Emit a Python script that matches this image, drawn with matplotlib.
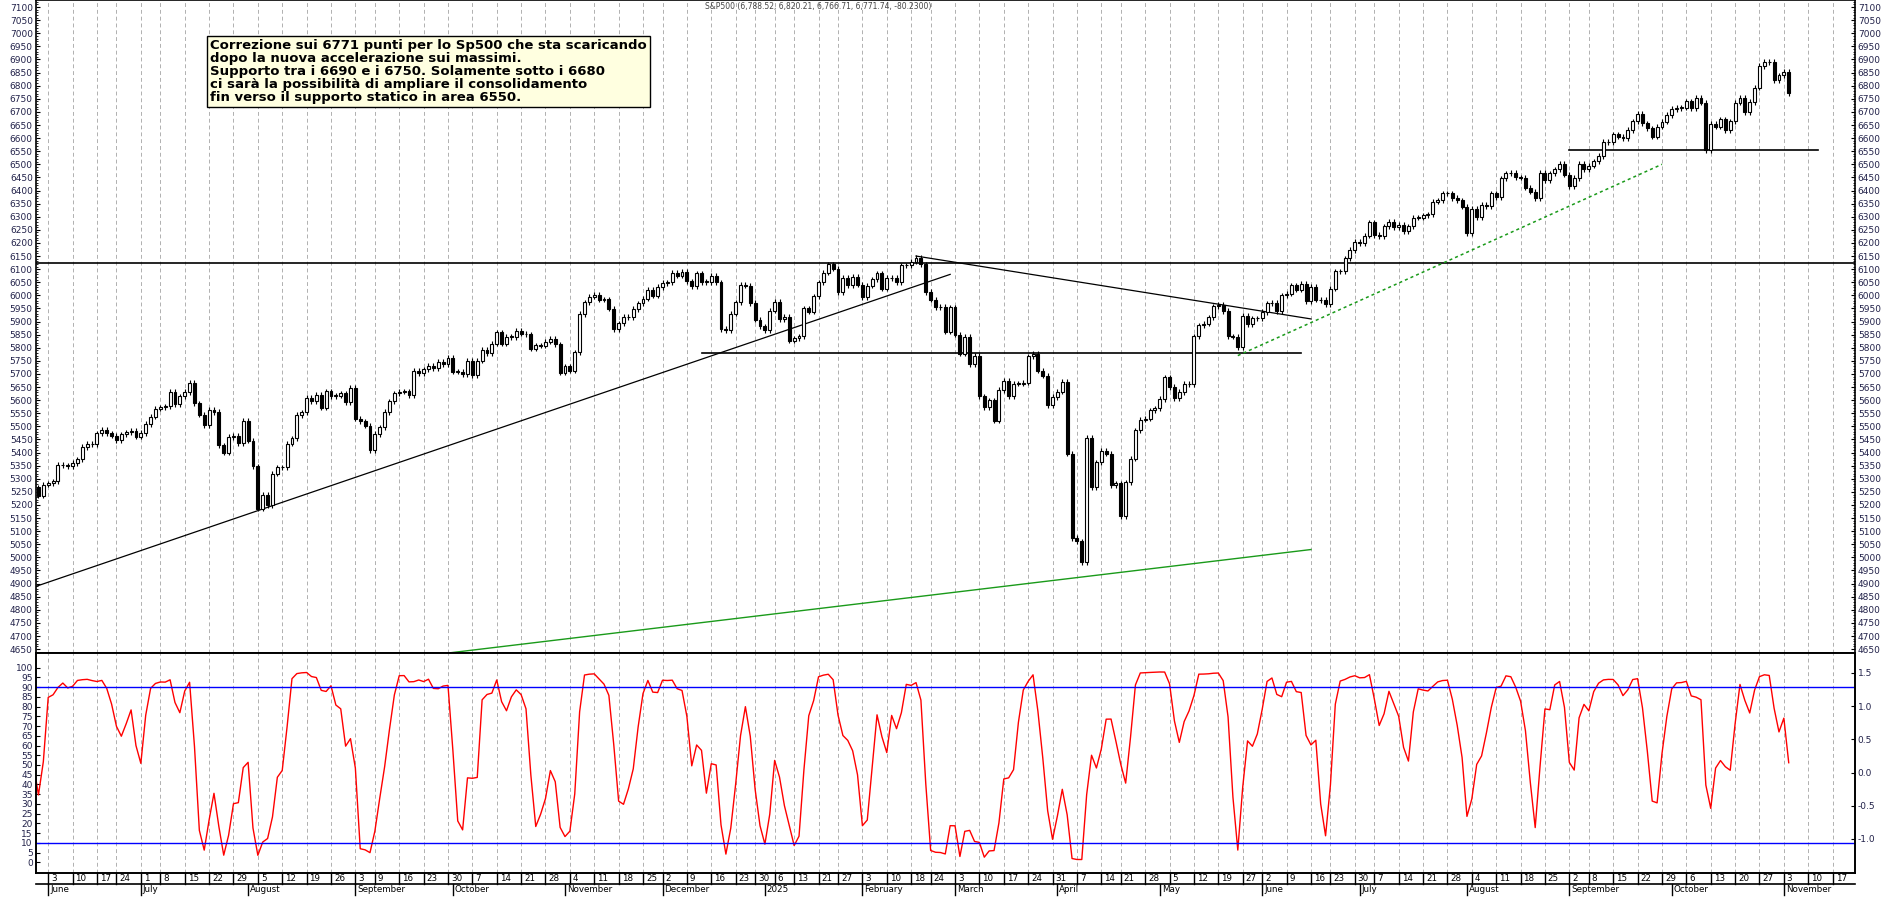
import matplotlib
matplotlib.use("Agg")
import matplotlib.pyplot as plt
import numpy as np
import pandas as pd

# daily closes, S&P500 (May 29 2024 .. Nov 4 2025)
closes_2024 = [
    5267, 5235, 5278,
    5283, 5291, 5354, 5352, 5347, 5360, 5375, 5421, 5433, 5431, 5473, 5487, 5473, 5464, 5447, 5469, 5478, 5483, 5460,
    5475, 5509, 5537, 5567, 5572, 5577, 5633, 5584, 5615, 5631, 5667, 5588, 5544, 5505, 5564, 5555, 5427, 5399, 5459, 5464, 5436, 5522,
    5446, 5347, 5186, 5240, 5199, 5319, 5344, 5344, 5434, 5455, 5543, 5554, 5608, 5597, 5620, 5571, 5634, 5616, 5617, 5626, 5592, 5648,
    5529, 5520, 5503, 5408, 5471, 5496, 5555, 5596, 5626, 5633, 5634, 5618, 5713, 5702, 5718, 5732, 5722, 5746, 5738, 5762,
    5709, 5709, 5699, 5751, 5696, 5751, 5792, 5780, 5815, 5859, 5815, 5842, 5841, 5864, 5853, 5851, 5797, 5809, 5808, 5823, 5833, 5813, 5705,
    5729, 5712, 5782, 5929, 5973, 5995, 6001, 5984, 5985, 5949, 5870, 5893, 5917, 5917, 5948, 5969, 5987, 6021, 5998, 6032,
    6047, 6050, 6086, 6075, 6090, 6053, 6034, 6084, 6051, 6051, 6074, 6050, 5872, 5867, 5930, 5974, 6040, 6037, 5971, 5907, 5882,
]
closes_2025 = [
    5868, 5942, 5975, 5909, 5918, 5827, 5836, 5843, 5950, 5937, 5997, 6049, 6086, 6119, 6101, 6012, 6068, 6039, 6071, 6041,
    5994, 6037, 6061, 6084, 6026, 6066, 6068, 6051, 6115, 6114, 6129, 6144, 6118, 6013, 5983, 5955, 5956, 5861, 5955,
    5850, 5778, 5842, 5738, 5770, 5615, 5572, 5599, 5521, 5639, 5675, 5615, 5663, 5663, 5667, 5768, 5777, 5712, 5693, 5581, 5612,
    5633, 5671, 5396, 5074, 5062, 4982, 5456, 5268, 5363, 5406, 5396, 5275, 5283, 5158, 5287, 5376, 5485, 5525, 5529, 5561, 5569,
    5604, 5687, 5650, 5607, 5631, 5663, 5660, 5844, 5886, 5892, 5916, 5958, 5964, 5940, 5844, 5842, 5802, 5922, 5889, 5912, 5912,
    5936, 5970, 5971, 5939, 6000, 6006, 6038, 6022, 6045, 5977, 6033, 5983, 5982, 5967, 6025, 6092, 6092, 6141, 6173, 6205,
    6198, 6227, 6279, 6230, 6225, 6263, 6280, 6260, 6269, 6244, 6264, 6297, 6297, 6306, 6309, 6358, 6363, 6389, 6390, 6371, 6362, 6339,
    6238, 6330, 6299, 6345, 6340, 6389, 6374, 6446, 6466, 6468, 6450, 6449, 6411, 6395, 6370, 6467, 6439, 6466, 6481, 6502, 6460,
    6416, 6448, 6502, 6482, 6495, 6512, 6532, 6587, 6584, 6615, 6606, 6600, 6631, 6664, 6693, 6657, 6638, 6605, 6644, 6662, 6688,
    6711, 6715, 6716, 6740, 6715, 6753, 6735, 6553, 6655, 6644, 6672, 6630, 6664, 6735, 6753, 6699, 6738, 6792, 6875, 6891, 6890, 6822, 6840,
    6852, 6772,
]
holidays = ["2024-06-19", "2024-07-04", "2024-09-02", "2024-11-28", "2024-12-25",
            "2025-01-01", "2025-01-09", "2025-01-20", "2025-02-17", "2025-04-18",
            "2025-05-26", "2025-06-19", "2025-07-04", "2025-09-01", "2025-11-27"]

# trend / support lines: (date, level) pairs
h_resist = 6125
up_line = [("2024-05-29", 4880), ("2025-02-28", 6080)]
down_line = [("2025-02-19", 6150), ("2025-06-16", 5910)]
h_mid = [("2024-12-12", "2025-06-12"), 5780]
green_line = [("2024-09-30", 4635), ("2025-06-16", 5030)]
green_dotted = [("2025-05-23", 5770), ("2025-09-29", 6500)]
h_support = [("2025-09-02", "2025-11-12"), 6555]

note = ("Correzione sui 6771 punti per lo Sp500 che sta scaricando\n"
        "dopo la nuova accelerazione sui massimi.\n"
        "Supporto tra i 6690 e i 6750. Solamente sotto i 6680\n"
        "ci sarà la possibilità di ampliare il consolidamento\n"
        "fin verso il supporto statico in area 6550.")
title = "S&P500 (6,788.52, 6,820.21, 6,766.71, 6,771.74, -80.2300)"

closes = np.array(closes_2024 + closes_2025, dtype=float)
days = pd.bdate_range("2024-05-29", "2025-11-21")
days = days[~days.isin(pd.to_datetime(holidays))]
n = len(closes)
pos = {d: i for i, d in enumerate(days)}


def xi(s):
    return pos[pd.Timestamp(s)]


opens = np.r_[closes[0], closes[:-1]]
highs = np.maximum(opens, closes) + 10
lows = np.minimum(opens, closes) - 10

# fast stochastic %K(8) slowed by 2
look = 8
k = np.full(n, np.nan)
for i in range(n):
    j = max(0, i - look + 1)
    lo, hi = lows[j:i+1].min(), highs[j:i+1].max()
    k[i] = 100 * (closes[i] - lo) / (hi - lo)
stoch = pd.Series(k).rolling(2, min_periods=1).mean().values

fig = plt.figure(figsize=(18.9, 9.02), dpi=100)
bot = 1 - 873 / 902
ax = fig.add_axes([0.0188, 0.276, 0.9627, 0.724])
ax2 = fig.add_axes([0.0188, bot, 0.9627, 0.276 - bot], sharex=ax)
lab_col = "#22224a"

x = np.arange(n)
up = closes >= opens
ax.vlines(x, lows, highs, color="black", lw=0.8, zorder=3)
body_lo = np.minimum(opens, closes)
body_h = np.maximum(np.abs(closes - opens), 2)
ax.bar(x[up], body_h[up], bottom=body_lo[up], width=0.6, color="white",
       edgecolor="black", lw=0.8, zorder=4)
ax.bar(x[~up], body_h[~up], bottom=body_lo[~up], width=0.6, color="black",
       edgecolor="black", lw=0.8, zorder=4)

xmin, xmax = 0.4, 373.6
ax.axhline(h_resist, color="black", lw=1.2)
ax.plot([xi(up_line[0][0]) - 1, xi(up_line[1][0])], [up_line[0][1], up_line[1][1]], color="black", lw=0.9)
ax.plot([xi(down_line[0][0]), xi(down_line[1][0])], [down_line[0][1], down_line[1][1]], color="black", lw=0.9)
ax.plot([xi(h_mid[0][0]), xi(h_mid[0][1])], [h_mid[1]] * 2, color="black", lw=1.2)
ax.plot([xi(green_line[0][0]), xi(green_line[1][0])], [green_line[0][1], green_line[1][1]], color="#1a9a1a", lw=1.0)
ax.plot([xi(green_dotted[0][0]), xi(green_dotted[1][0])], [green_dotted[0][1], green_dotted[1][1]],
        color="#1a9a1a", lw=1.1, ls=(0, (2, 2)))
ax.plot([xi(h_support[0][0]), xi(h_support[0][1])], [h_support[1]] * 2, color="black", lw=1.2)

ax.set_ylim(4635, 7127)
ax.set_xlim(xmin, xmax)
ax.text(0.096, 0.94, note, transform=ax.transAxes, ha="left", va="top", fontsize=9.5,
        fontweight="bold", family="Liberation Sans Narrow", linespacing=1.0,
        bbox=dict(boxstyle="square,pad=0.25", fc="#ffffe0", ec="black", lw=1))
ax.text(0.43, 0.997, title, transform=ax.transAxes, ha="center", va="top", fontsize=5.5, color="#444444")

# weekly ticks at first trading day of each week
wk = pd.Series(days).groupby(pd.Series(days).dt.to_period("W")).first()
wk_idx = [pos[d] for d in wk if pos[d] >= 1]
for a in (ax, ax2):
    for i in wk_idx:
        a.axvline(i, color="#b0b0b0", lw=0.7, ls=(0, (4, 3)), zorder=0)

ticks = np.arange(4650, 7101, 50)
ax.set_yticks(ticks)
ax.set_yticks(np.arange(4640, 7127, 10), minor=True)
ax.tick_params(axis="y", which="both", labelleft=True, labelright=True, left=True, right=True,
               labelsize=6.5, labelcolor=lab_col, length=3, direction="in", pad=2)
ax.tick_params(axis="y", which="minor", length=1.5)
ax.tick_params(axis="x", bottom=False, labelbottom=False)

ax2.plot(x, stoch, color="red", lw=1.0)
ax2.axhline(90, color="blue", lw=1.0)
ax2.axhline(10, color="blue", lw=1.0)
ax2.set_ylim(-5.5, 107.5)
ax2.set_yticks(np.arange(0, 101, 5))
ax2.tick_params(axis="y", labelsize=6.5, labelcolor=lab_col, length=3, direction="in", pad=2)
ax2.tick_params(axis="x", bottom=False, labelbottom=False)
axr = ax2.twinx()
axr.set_ylim((-5.5 - 46.1) / 34.1, (107.5 - 46.1) / 34.1)
axr.set_yticks([-1.0, -0.5, 0.0, 0.5, 1.0, 1.5])
axr.set_yticklabels(["-1.0", "-0.5", "0.0", "0.5", "1.0", "1.5"])
axr.tick_params(axis="y", labelsize=6.5, labelcolor=lab_col, length=3, direction="in", pad=2)

for a in (ax, ax2, axr):
    for s in a.spines.values():
        s.set_linewidth(1.2)

# date axis: day row and month row under the lower panel
h_ax = (0.276 - bot) * 902
row = 11 / h_ax
tr = ax2.get_xaxis_transform()
ax2.plot([xmin, xmax], [-row, -row], color="black", lw=1.2, transform=tr, clip_on=False)
for i in wk_idx:
    ax2.plot([i, i], [0, -row], color="black", lw=1.0, transform=tr, clip_on=False)
    ax2.text(i + 0.6, -row / 2, str(days[i].day), transform=tr, ha="left", va="center", fontsize=6.3)
first_month = pd.Series(days).groupby(pd.Series(days).dt.to_period("M")).first()
for d in first_month:
    i = pos[d]
    if i < 2:
        continue
    ax2.plot([i, i], [-row, -2 * row], color="black", lw=1.0, transform=tr, clip_on=False)
    name = "2025" if d.month == 1 else d.strftime("%B")
    ax2.text(i + 0.4, -1.5 * row, name, transform=tr, ha="left", va="center", fontsize=6.3)

fig.savefig("out.png", dpi=100)
